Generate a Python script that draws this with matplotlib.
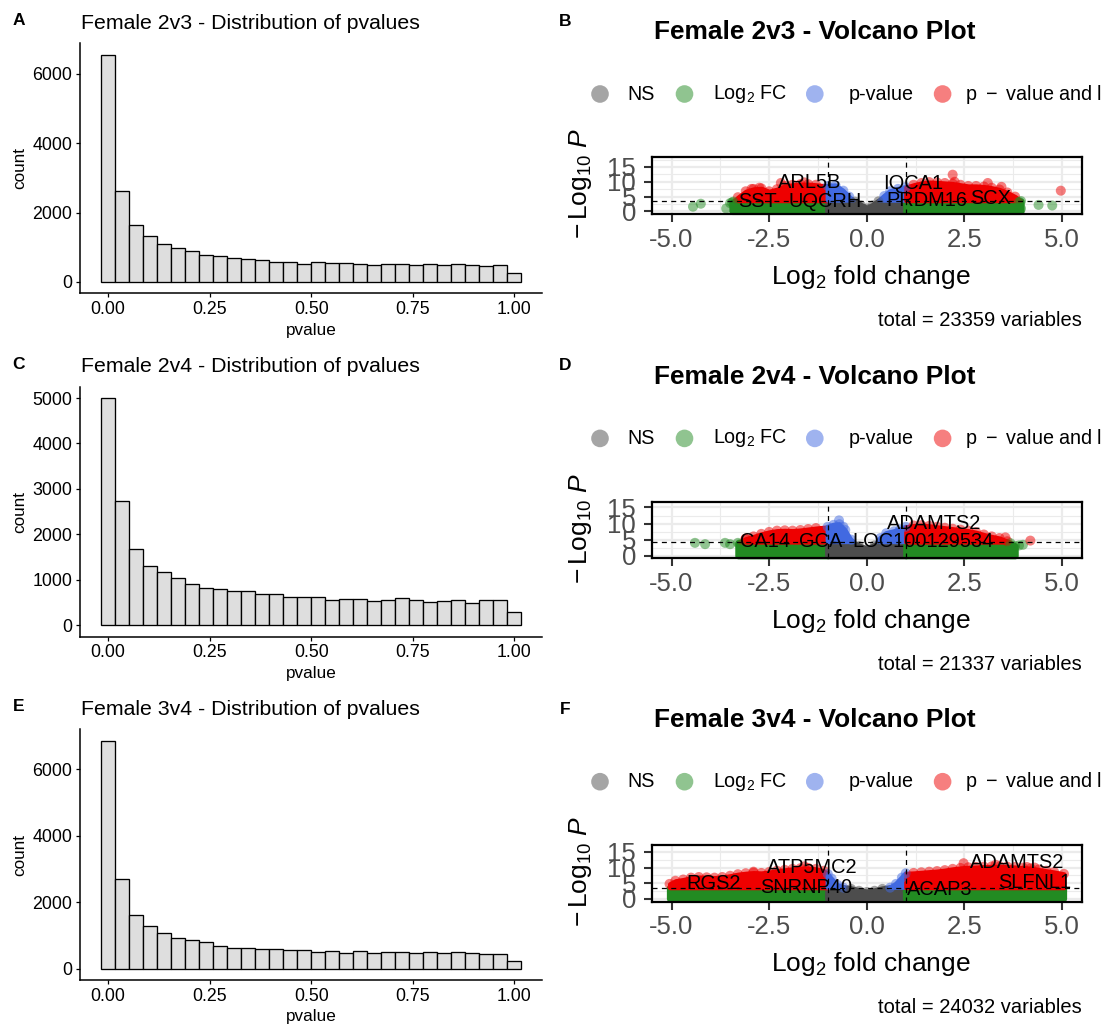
import numpy as np
import matplotlib
matplotlib.use("Agg")
import matplotlib.pyplot as plt

plt.rcParams['font.family'] = ['Liberation Sans', 'DejaVu Sans']
plt.rcParams['mathtext.fontset'] = 'custom'
plt.rcParams['mathtext.rm'] = 'Liberation Sans'
plt.rcParams['mathtext.it'] = 'Liberation Sans:italic'
plt.rcParams['mathtext.bf'] = 'Liberation Sans:bold'

W, H, DPI = 1101, 1026, 100

# ---------------- p-value histograms (30 bins over [0, 1]) ----------------
hist_titles = ["Female 2v3 - Distribution of pvalues",
               "Female 2v4 - Distribution of pvalues",
               "Female 3v4 - Distribution of pvalues"]
counts_2v3 = [6555, 2632, 1636, 1321, 1081, 976, 880, 785, 746, 699,
              670, 622, 584, 584, 526, 565, 545, 555, 507, 478,
              507, 517, 498, 507, 498, 517, 488, 469, 488, 258]
counts_2v4 = [5000, 2730, 1672, 1299, 1175, 1036, 905, 818, 803, 745,
              745, 693, 679, 628, 620, 628, 555, 569, 569, 533,
              555, 606, 562, 504, 540, 555, 496, 555, 555, 292]
counts_3v4 = [6851, 2698, 1615, 1274, 1063, 933, 863, 802, 692, 632,
              632, 582, 592, 572, 552, 491, 532, 471, 532, 471,
              491, 491, 471, 512, 471, 501, 461, 441, 451, 231]
hist_yticks = [[0, 2000, 4000, 6000],
               [0, 1000, 2000, 3000, 4000, 5000],
               [0, 2000, 4000, 6000]]
pvalue_ticks = [0.0, 0.25, 0.5, 0.75, 1.0]
pvalue_ticklabels = ["0.00", "0.25", "0.50", "0.75", "1.00"]

# ---------------- volcano plots ----------------
volcano_titles = ["Female 2v3 - Volcano Plot",
                  "Female 2v4 - Volcano Plot",
                  "Female 3v4 - Volcano Plot"]
totals = [23359, 21337, 24032]
p_cutoffs = [3.65, 4.25, 3.59]          # -log10 p threshold per comparison
fc_cutoff = 1.0

# upper edge of the dense point cloud (log2FC, -log10 p)
env_x_2v3 = [-3.45, -3.3, -3.1, -2.9, -2.7, -2.5, -2.3, -2.1, -1.9, -1.7,
             -1.5, -1.3, -1.0, -0.8, -0.6, -0.45, -0.3, -0.15, 0.0, 0.15,
             0.3, 0.45, 0.6, 0.8, 1.0, 1.2, 1.4, 1.6, 1.8, 2.0,
             2.2, 2.4, 2.6, 2.8, 3.0, 3.2, 3.4, 3.6, 3.8, 3.95]
env_top_2v3 = [3.0, 4.8, 6.8, 7.6, 7.8, 6.8, 7.5, 8.6, 9.0, 9.2,
               9.2, 9.0, 8.6, 8.8, 7.0, 5.0, 3.3, 2.0, 1.0, 2.0,
               3.4, 5.2, 6.8, 7.6, 8.2, 9.0, 9.6, 9.9, 9.8, 9.6,
               9.4, 9.0, 8.6, 8.6, 8.4, 8.0, 7.4, 6.4, 5.0, 3.5]
out_x_2v3 = [-4.45, -4.25, -3.6, -3.5, -3.42, 4.4, 4.75, 3.95, 3.9,
             2.2, 2.25, 3.1, 3.45, 4.97, -2.95, -2.75, -2.2, -1.6]
out_y_2v3 = [1.6, 2.6, 1.0, 2.8, 3.3, 2.2, 2.0, 1.0, 3.2,
             12.4, 10.0, 9.6, 8.3, 7.0, 7.6, 8.0, 9.6, 9.8]

env_x_2v4 = [-3.3, -3.1, -2.9, -2.7, -2.5, -2.3, -2.1, -1.9, -1.7, -1.5,
             -1.3, -1.0, -0.85, -0.7, -0.55, -0.4, -0.2, 0.0, 0.2, 0.35,
             0.5, 0.7, 0.85, 1.0, 1.2, 1.4, 1.6, 1.8, 2.0, 2.2,
             2.4, 2.6, 2.8, 3.0, 3.2, 3.4, 3.6, 3.8]
env_top_2v4 = [4.0, 5.3, 6.0, 6.8, 7.4, 7.8, 7.9, 7.8, 8.0, 8.3,
               8.6, 9.0, 9.6, 9.8, 8.0, 5.0, 3.0, 2.0, 3.2, 5.5,
               7.0, 7.6, 8.2, 9.0, 9.4, 9.5, 9.3, 9.0, 8.7, 8.4,
               8.1, 7.8, 7.3, 6.6, 6.0, 5.5, 4.5, 3.0]
out_x_2v4 = [-4.4, -4.14, -3.63, -3.5, -3.24, 3.55, 3.9, 3.68, 4.0,
             4.19, 3.55, -3.1, -0.71, -0.6]
out_y_2v4 = [4.0, 3.6, 4.0, 3.6, 3.6, 1.2, 3.2, 3.9, 3.4,
             4.7, 5.7, 5.3, 11.0, 9.0]

env_x_3v4 = [-5.05, -4.9, -4.7, -4.5, -4.3, -4.1, -3.9, -3.7, -3.5, -3.3,
             -3.1, -2.9, -2.7, -2.5, -2.3, -2.1, -1.9, -1.7, -1.5, -1.3,
             -1.1, -1.0, -0.9, -0.75, -0.6, -0.4, -0.2, 0.0, 0.2, 0.4,
             0.6, 0.75, 0.9, 1.0, 1.2, 1.4, 1.6, 1.8, 2.0, 2.2,
             2.4, 2.6, 2.8, 3.0, 3.2, 3.4, 3.6, 3.8, 4.0, 4.2,
             4.4, 4.6, 4.8, 5.05]
env_top_3v4 = [4.8, 5.8, 6.2, 6.8, 7.0, 6.9, 6.8, 7.0, 7.4, 7.9,
               8.2, 8.4, 8.3, 8.6, 9.0, 9.3, 9.6, 9.8, 9.9, 9.6,
               9.0, 8.0, 6.5, 4.5, 3.6, 3.2, 2.6, 2.2, 2.6, 3.2,
               3.6, 4.8, 6.8, 8.2, 8.3, 8.5, 8.7, 8.9, 9.2, 9.6,
               9.9, 10.1, 10.2, 10.3, 10.4, 10.4, 10.3, 10.2, 10.0, 9.8,
               9.4, 9.0, 8.6, 8.0]
out_x_3v4 = [2.48, -2.9, 4.1, 4.3, 3.3, -1.6]
out_y_3v4 = [11.4, 8.7, 10.2, 10.0, 10.9, 10.4]

genes_2v3 = [("ARL5B", -1.45, 9.6), ("SST", -2.80, 3.3), ("UQCRH", -1.06, 3.3),
             ("IQCA1", 1.19, 9.5), ("PRDM16", 1.53, 3.6), ("SCX", 3.18, 4.4)]
genes_2v4 = [("ADAMTS2", 1.72, 10.0), ("CA14", -2.61, 4.3), ("GCA", -1.18, 4.3),
             ("LOC100129534", 1.45, 4.3)]
genes_3v4 = [("ATP5MC2", -1.39, 10.0), ("RGS2", -3.93, 4.9), ("SNRNP40", -1.56, 3.8),
             ("ADAMTS2", 3.86, 11.6), ("SLFNL1", 4.31, 5.4), ("ACAP3", 1.88, 2.95)]

legend_labels = ["NS", r"$\mathrm{Log}_{2}$ FC", "p-value",
                 r"p $\:-\:$ value and $\mathrm{log}_{2}$ FC"]

RED, GREEN, BLUE, GREY = "#EE0000", "#228B22", "#4169E1", "#4D4D4D"
GRID = "#EBEBEB"
BAR_FILL = "#DEDEDE"


def px_rect(l, t, r, b):
    return [l / W, 1 - b / H, (r - l) / W, (b - t) / H]


def point_colour(x, y, cut):
    big_fc = abs(x) > fc_cutoff
    sig = y > cut
    if big_fc and sig:
        return RED
    if big_fc:
        return GREEN
    if sig:
        return BLUE
    return GREY


def draw_histogram(ax, counts, yticks):
    n = len(counts)
    width = 1.0 / (n - 1)
    centers = np.arange(n) * width
    ax.bar(centers, counts, width=width, color=BAR_FILL, edgecolor="black",
           linewidth=0.95, zorder=2)
    span = 1 + width
    ax.set_xlim(-width / 2 - 0.05 * span, 1 + width / 2 + 0.05 * span)
    top = max(counts)
    ax.set_ylim(-0.05 * top, 1.05 * top)
    ax.set_xticks(pvalue_ticks)
    ax.set_xticklabels(pvalue_ticklabels)
    ax.set_yticks(yticks)
    ax.set_yticklabels([str(v) for v in yticks])
    for s in ("top", "right"):
        ax.spines[s].set_visible(False)
    for s in ("left", "bottom"):
        ax.spines[s].set_linewidth(1.1)
    ax.tick_params(length=3, width=0.9, color="black", labelsize=12.8,
                   labelcolor="black", pad=2.5)
    ax.set_facecolor("white")


def draw_volcano(ax, env_x, env_top, out_x, out_y, cut, genes):
    ex = np.asarray(env_x, float)
    et = np.asarray(env_top, float)
    ymax = max(et.max(), max(out_y)) + 5
    ax.set_xlim(-5.5, 5.5)
    ax.set_ylim(-0.05 * ymax, 1.05 * ymax)

    for v in (-3.75, -1.25, 1.25, 3.75):
        ax.axvline(v, color=GRID, lw=0.8, zorder=0)
    for v in (-5, -2.5, 0, 2.5, 5):
        ax.axvline(v, color=GRID, lw=1.6, zorder=0)
    for v in (2.5, 7.5, 12.5, 17.5):
        ax.axhline(v, color=GRID, lw=0.8, zorder=0)
    for v in (0, 5, 10, 15):
        ax.axhline(v, color=GRID, lw=1.6, zorder=0)

    parts = [(ex <= -fc_cutoff, GREEN, RED),
             ((ex >= -fc_cutoff) & (ex <= fc_cutoff), GREY, BLUE),
             (ex >= fc_cutoff, GREEN, RED)]
    # lower (non-significant) band first, a wide stroke rounds its edges
    for mask, low, high in parts:
        xs, ts = ex[mask], et[mask]
        ax.fill_between(xs, 0, np.minimum(ts, cut), facecolor=low,
                        edgecolor=low, lw=4.5, joinstyle="round",
                        clip_on=False, zorder=2)
    for mask, low, high in parts:
        xs, ts = ex[mask], et[mask]
        ax.fill_between(xs, cut, ts, where=ts > cut, interpolate=True,
                        facecolor=high, edgecolor=high, lw=3,
                        joinstyle="round", zorder=2)

    px = np.concatenate([ex, np.asarray(out_x, float)])
    py = np.concatenate([et, np.asarray(out_y, float)])
    cols = [point_colour(a, b, cut) for a, b in zip(px, py)]
    ax.scatter(px, py, s=52, c=cols, alpha=0.5, linewidths=0, zorder=3)

    dash = (0, (4, 3.5))
    ax.axvline(-fc_cutoff, color="black", lw=0.9, ls=dash, zorder=4)
    ax.axvline(fc_cutoff, color="black", lw=0.9, ls=dash, zorder=4)
    ax.axhline(cut, color="black", lw=0.9, ls=dash, zorder=4)

    for name, gx, gy in genes:
        ax.text(gx, gy, name, ha="center", va="center", fontsize=14.4,
                color="black", zorder=6)

    ax.set_xticks([-5, -2.5, 0, 2.5, 5])
    ax.set_xticklabels(["-5.0", "-2.5", "0.0", "2.5", "5.0"])
    ax.set_yticks([0, 5, 10, 15])
    ax.set_yticklabels(["0", "5", "10", "15"])
    ax.tick_params(length=6, width=1.5, color="#333333", labelsize=18.5,
                   labelcolor="#4D4D4D")
    ax.tick_params(axis="x", pad=4)
    ax.tick_params(axis="y", pad=5.5)
    for s in ax.spines.values():
        s.set_linewidth(1.6)
        s.set_color("black")
        s.set_zorder(7)


fig = plt.figure(figsize=(W / DPI, H / DPI), dpi=DPI)
fig.patch.set_facecolor("white")

overlay = fig.add_axes([0, 0, 1, 1], zorder=10)
overlay.set_xlim(0, W)
overlay.set_ylim(H, 0)
overlay.axis("off")
overlay.patch.set_alpha(0)

hist_boxes = [(80, 43.3, 542.3, 293.3), (80, 386.7, 542.3, 636.6), (80, 729.3, 542.3, 980.0)]
volc_boxes = [(652, 157.3, 1081.5, 214.0), (652, 501.7, 1081.5, 558.3), (652, 845.0, 1081.5, 901.5)]
hist_counts = [counts_2v3, counts_2v4, counts_3v4]
volc_data = [(env_x_2v3, env_top_2v3, out_x_2v3, out_y_2v3, genes_2v3),
             (env_x_2v4, env_top_2v4, out_x_2v4, out_y_2v4, genes_2v4),
             (env_x_3v4, env_top_3v4, out_x_3v4, out_y_3v4, genes_3v4)]
left_letters = ["A", "C", "E"]
right_letters = ["B", "D", "F"]
legend_colours = [GREY, GREEN, BLUE, RED]
legend_dot_x = [600, 684.5, 814.8, 942.6]
legend_text_x = [627.5, 712.7, 848.6, 964.8]

for i in range(3):
    l, t, r, b = hist_boxes[i]
    ax = fig.add_axes(px_rect(l, t, r, b))
    draw_histogram(ax, hist_counts[i], hist_yticks[i])
    overlay.text(l + 1, t - 20, hist_titles[i], fontsize=15.3, ha="left", va="center")
    overlay.text(18.5, t - 22.5, left_letters[i], fontsize=12.5, fontweight="bold",
                 ha="center", va="center")
    overlay.text((l + r) / 2, b + 36.7, "pvalue", fontsize=12.3, ha="center", va="center")
    overlay.text(19.4, (t + b) / 2, "count", fontsize=12.3, rotation=90,
                 ha="center", va="center")

    l, t, r, b = volc_boxes[i]
    ax = fig.add_axes(px_rect(l, t, r, b))
    ex, et, ox, oy, genes = volc_data[i]
    draw_volcano(ax, ex, et, ox, oy, p_cutoffs[i], genes)
    overlay.text(814.4, t - 125, volcano_titles[i], fontsize=18.9, fontweight="bold",
                 ha="center", va="center")
    overlay.text(565, t - 136, right_letters[i], fontsize=12.5, fontweight="bold",
                 ha="center", va="center")
    ly = t - 63.3
    overlay.scatter(legend_dot_x, [ly] * 4, s=161, c=legend_colours, alpha=0.5,
                    linewidths=0, clip_on=False)
    for tx, lab in zip(legend_text_x, legend_labels):
        overlay.text(tx, ly, lab, fontsize=14.2, ha="left", va="center", clip_on=False)
    overlay.text(580, (t + b) / 2 - 2, r"$-\,\mathrm{Log}_{10}\ \mathit{P}$", fontsize=19,
                 rotation=90, ha="center", va="center")
    overlay.text((l + r) / 2 + 4, b + 62.7, r"$\mathrm{Log}_{2}$ fold change", fontsize=19,
                 ha="center", va="center")
    overlay.text(r, b + 106, "total = %d variables" % totals[i], fontsize=14.5,
                 ha="right", va="center")

fig.savefig("out.png", dpi=DPI, facecolor="white")
